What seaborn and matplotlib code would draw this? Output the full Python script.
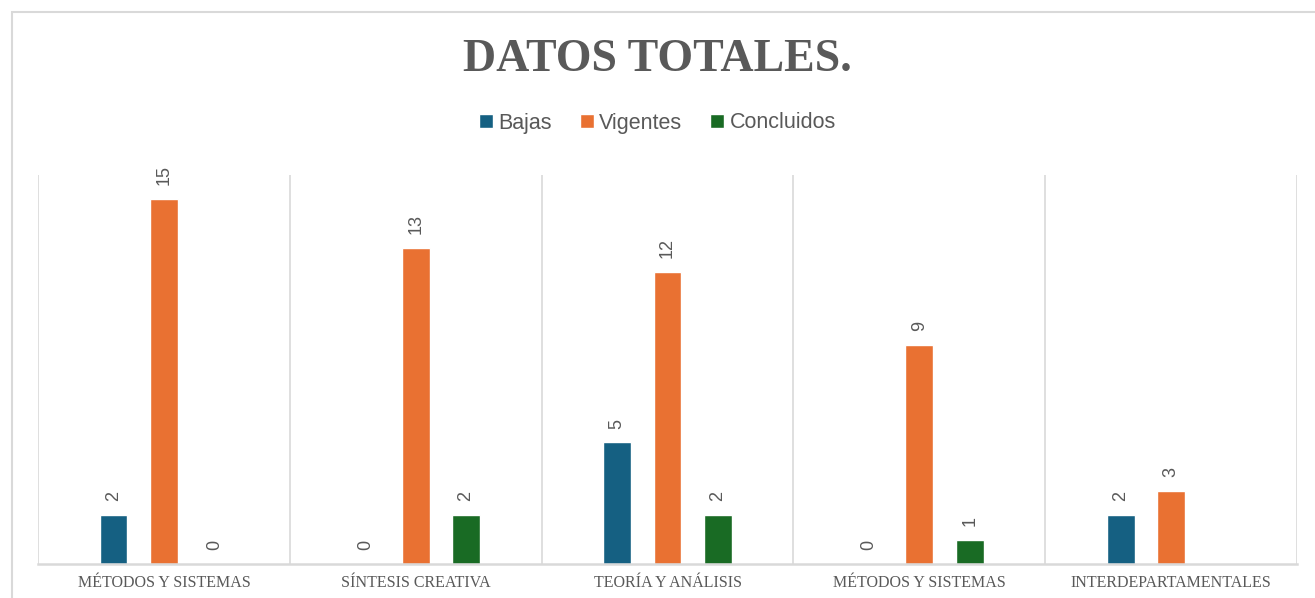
import numpy as np
import pandas as pd
import matplotlib
matplotlib.use("Agg")
import matplotlib.pyplot as plt
import seaborn as sns
from matplotlib.patches import Rectangle

# DATOS

categorias = ["MÉTODOS Y SISTEMAS", "SÍNTESIS CREATIVA", "TEORÍA Y ANÁLISIS",
              "MÉTODOS Y SISTEMAS", "INTERDEPARTAMENTALES"]
series = ["Bajas", "Vigentes", "Concluidos"]
bajas = [2, 0, 5, 0, 2]
vigentes = [15, 13, 12, 9, 3]
concluidos = [0, 2, 2, 1, np.nan]
colores = ["#156082", "#E97132", "#196B24"]

# two groups share the same name, so use the position as the category
df = pd.DataFrame({
    "grupo": list(range(len(categorias))) * 3,
    "serie": [s for s in series for _ in categorias],
    "valor": bajas + vigentes + concluidos,
})

sns.set_theme(style="white")
plt.rcParams["font.family"] = ["Liberation Sans", "DejaVu Sans"]

gris = "#595959"
linea = "#d9d9d9"

fig = plt.figure(figsize=(13.15, 5.98), dpi=100)
ax = fig.add_axes([38 / 1315, 1 - 564 / 598, (1297 - 38) / 1315, (564 - 175) / 598])

sns.barplot(data=df, x="grupo", y="valor", hue="serie", hue_order=series,
            palette=colores, order=list(range(len(categorias))),
            width=0.6, gap=0.45, saturation=1, ax=ax, legend=True)

# data labels
for cont in ax.containers:
    vals = cont.datavalues
    etiquetas = ["" if np.isnan(v) else f"{v:.0f}" for v in vals]
    ax.bar_label(cont, labels=etiquetas, rotation=90, padding=10,
                 fontsize=13, color=gris)

ax.set_xlim(-0.5, len(categorias) - 0.5)
ax.set_ylim(0, 16)
ax.set_yticks([])
ax.set_xlabel("")
ax.set_ylabel("")
ax.set_xticks(range(len(categorias)))
ax.set_xticklabels(categorias, family="Liberation Serif", fontsize=11.5, color=gris)
ax.tick_params(axis="x", length=0, pad=8)

# group separators
for xs in np.arange(-0.5, len(categorias), 1.0):
    ax.axvline(xs, color=linea, lw=1.2, zorder=0)

for lado in ["top", "right", "left"]:
    ax.spines[lado].set_visible(False)
ax.spines["bottom"].set_color(linea)
ax.spines["bottom"].set_linewidth(1.8)

# legend
handles, labels = ax.get_legend_handles_labels()
ax.legend(handles, labels, loc="center", bbox_to_anchor=(0.5, 1 - 123 / 598),
          bbox_transform=fig.transFigure, ncol=3, frameon=False,
          fontsize=15.5, handlelength=0.65, handleheight=0.65,
          handletextpad=0.25, columnspacing=1.3, labelcolor=gris)

# title
fig.text(0.5, 1 - 60 / 598, "DATOS TOTALES.", ha="center", va="center",
         family="Liberation Serif", fontweight="bold", fontsize=33, color=gris)

# outer chart border (cropped on right and bottom)
fig.patches.append(Rectangle((12 / 1315, -0.1), 1.2, 1.1 - 12 / 598,
                             transform=fig.transFigure, fill=False,
                             edgecolor=linea, lw=1.5))

fig.savefig("out.png", dpi=100)
